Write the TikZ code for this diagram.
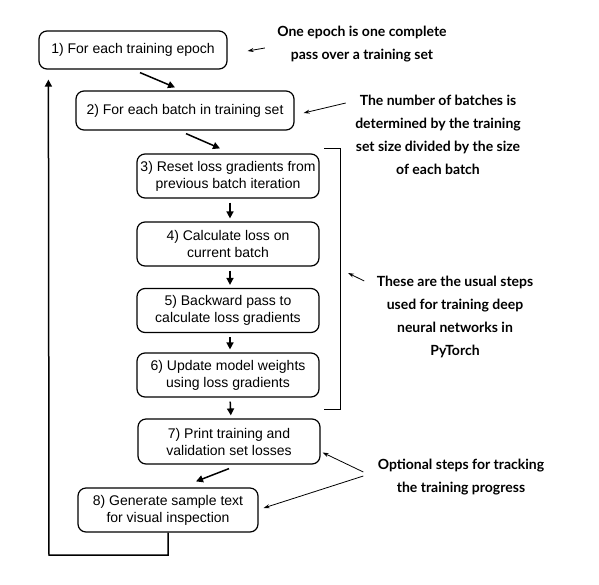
\documentclass[tikz,border=0pt]{standalone}
\usepackage{fontspec}
\setmainfont{Liberation Sans}
\newfontfamily\notefont{Lato}
\usepackage{tikz}
\usetikzlibrary{arrows.meta, positioning, calc}

\begin{document}
\begin{tikzpicture}[x=1pt, y=-1pt,
  stepbox/.style={draw, rounded corners=8pt, line width=1.2pt, align=center, inner sep=0pt, font=\fontsize{14}{17}\selectfont},
  note/.style={align=center, font=\notefont\bfseries\fontsize{14}{23}\selectfont},
  flow/.style={line width=1.5pt, -{Triangle[length=7pt, width=7pt]}},
  pointer/.style={line width=0.8pt, -{Stealth[length=6pt, width=4pt]}}]
  \useasboundingbox (0,0) rectangle (599,584);

  % training loop steps
  \node[stepbox, minimum width=188pt, minimum height=38pt] (epoch) at (133,50) {1) For each training epoch};
  \node[stepbox, minimum width=218pt, minimum height=39pt] (batch) at (185,110.5) {2) For each batch in training set};
  \node[stepbox, minimum width=182pt, minimum height=44pt] (reset) at (228,176) {3) Reset loss gradients from\\previous batch iteration};
  \node[stepbox, minimum width=182pt, minimum height=44pt] (loss) at (228,244) {4) Calculate loss on\\current batch};
  \node[stepbox, minimum width=182pt, minimum height=44pt] (backward) at (228,310.5) {5) Backward pass to\\calculate loss gradients};
  \node[stepbox, minimum width=182pt, minimum height=44pt] (update) at (228,375) {6) Update model weights\\using loss gradients};
  \node[stepbox, minimum width=182pt, minimum height=45pt] (print) at (229,441.5) {7) Print training and\\validation set losses};
  \node[stepbox, minimum width=180pt, minimum height=44pt] (sample) at (168,510) {8) Generate sample text\\for visual inspection};

  \draw[flow] ($(epoch.south)+(7,3)$) -- ($(batch.north)+(-10,-3)$);
  \draw[flow] ($(batch.south)+(1,3)$) -- ($(reset.north)+(-8,-5)$);
  \foreach \a/\b in {reset/loss, loss/backward, backward/update, update/print}
    \draw[flow, shorten <=4pt, shorten >=3pt] ($(\a.south)+(2,0)$) -- ($(\b.north)+(2,0)$);
  \draw[flow] ($(print.south)+(0,4)$) -- ($(sample.north)+(28,-6)$);

  % back to the next epoch
  \coordinate (corner) at (49,555);
  \draw[flow] (sample.south) |- (corner) -- ($(epoch.south west)+(10,10)$);

  % bracket round steps 3 to 6
  \coordinate (brtop) at (324,148);
  \coordinate (brbot) at (324,409);
  \coordinate (brmid) at (340,273);
  \draw[line width=1pt] (brtop) -- ++(16,0) |- (brbot);

  % notes
  \node[note] (epochnote) at (362,44) {One epoch is one complete\\pass over a training set};
  \node[note] (batchnote) at (438,135) {The number of batches is\\determined by the training\\set size divided by the size\\of each batch};
  \node[note] (stepsnote) at (455,317) {These are the usual steps\\used for training deep\\neural networks in\\PyTorch};
  \node[note] (optnote) at (461,477) {Optional steps for tracking\\the training progress};

  \draw[pointer] ($(epochnote.west)+(-9,4)$) -- ($(epoch.east)+(20,1)$);
  \draw[pointer] ($(batchnote.west)+(-6,-32)$) -- ($(batch.east)+(9,2.5)$);
  \draw[pointer] ($(stepsnote.west)+(-9,-36)$) -- ($(brmid)+(8,0)$);
  \draw[pointer] ($(optnote.west)+(-11,-5)$) -- ($(print.east)+(2,11)$);
  \draw[pointer] ($(optnote.west)+(-11,-1)$) -- ($(sample.east)+(5,-2)$);
\end{tikzpicture}
\end{document}
